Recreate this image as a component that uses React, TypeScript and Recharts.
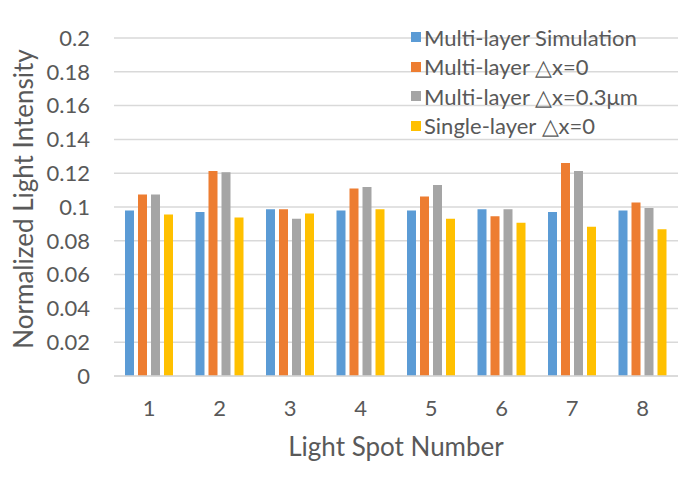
import React from "react";
import { BarChart, Bar, XAxis, YAxis, CartesianGrid } from "recharts";

const spots = ["1", "2", "3", "4", "5", "6", "7", "8"];
const multiSim = [0.0979, 0.097, 0.0986, 0.0979, 0.0979, 0.0986, 0.097, 0.0979];
const multiDx0 = [0.1074, 0.1213, 0.0986, 0.111, 0.1062, 0.0946, 0.1261, 0.1026];
const multiDx03 = [0.1074, 0.1205, 0.0931, 0.1118, 0.113, 0.0986, 0.1213, 0.0994];
const singleDx0 = [0.0955, 0.0938, 0.0962, 0.0986, 0.0931, 0.0907, 0.0883, 0.0868];
const yTicks = [0, 0.02, 0.04, 0.06, 0.08, 0.1, 0.12, 0.14, 0.16, 0.18, 0.2];

const seriesInfo = [
  { key: "sim", name: "Multi-layer Simulation", color: "#5b9bd5" },
  { key: "dx0", name: "Multi-layer \u25B3x=0", color: "#ed7d31" },
  { key: "dx03", name: "Multi-layer \u25B3x=0.3\u03BCm", color: "#a5a5a5" },
  { key: "single", name: "Single-layer \u25B3x=0", color: "#ffc000" },
];

const rows = spots.map((s, i) => ({
  spot: s,
  sim: multiSim[i],
  dx0: multiDx0[i],
  dx03: multiDx03[i],
  single: singleDx0[i],
}));

const FONT = "Lato, 'Open Sans', sans-serif";
const TEXT = "#595959";

const YTitle = () => {
  const cx = 15;
  const cy = 191;
  return (
    <text
      x={cx}
      y={cy}
      transform={`rotate(-90 ${cx} ${cy})`}
      textAnchor="middle"
      dominantBaseline="central"
      fill={TEXT}
      fontSize={26}
      fontFamily={FONT}
    >
      Normalized Light Intensity
    </text>
  );
};

// legend drawn as plain html over the chart so it takes no space from the plot
const LegendBox = () => (
  <div
    style={{
      position: "absolute",
      top: 14.5,
      left: 403,
      fontFamily: FONT,
      fontSize: 22,
      color: TEXT,
    }}
  >
    {seriesInfo.map((s) => (
      <div
        key={s.key}
        style={{ display: "flex", alignItems: "center", height: 29.5, whiteSpace: "nowrap" }}
      >
        <span
          style={{ width: 10, height: 10, background: s.color, marginRight: 3, display: "inline-block" }}
        />
        <span>{s.name}</span>
      </div>
    ))}
  </div>
);

export default function App() {
  return (
    <div style={{ position: "relative", width: 683, height: 477 }}>
      <BarChart
        width={683}
        height={477}
        data={rows}
        margin={{ top: 30, right: 13, left: 0, bottom: 9 }}
        barSize={9}
        barGap={4}
      >
        <CartesianGrid vertical={false} stroke="#d9d9d9" strokeWidth={1.5} />
        <XAxis
          dataKey="spot"
          height={100}
          tickLine={false}
          tickSize={0}
          tickMargin={24}
          axisLine={{ stroke: "#d9d9d9", strokeWidth: 1.5 }}
          tick={{ fill: TEXT, fontSize: 22, fontFamily: FONT }}
          label={{
            value: "Light Spot Number",
            position: "insideBottom",
            offset: 20,
            fill: TEXT,
            fontSize: 26,
            fontFamily: FONT,
          }}
        />
        <YAxis
          width={106}
          domain={[0, 0.2]}
          ticks={yTicks}
          interval={0}
          tickLine={false}
          tickSize={0}
          tickMargin={24}
          axisLine={false}
          tick={{ fill: TEXT, fontSize: 22, fontFamily: FONT }}
          label={<YTitle />}
        />
        {seriesInfo.map((s) => (
          <Bar
            key={s.key}
            dataKey={s.key}
            name={s.name}
            fill={s.color}
            isAnimationActive={false}
          />
        ))}
      </BarChart>
      <LegendBox />
    </div>
  );
}
